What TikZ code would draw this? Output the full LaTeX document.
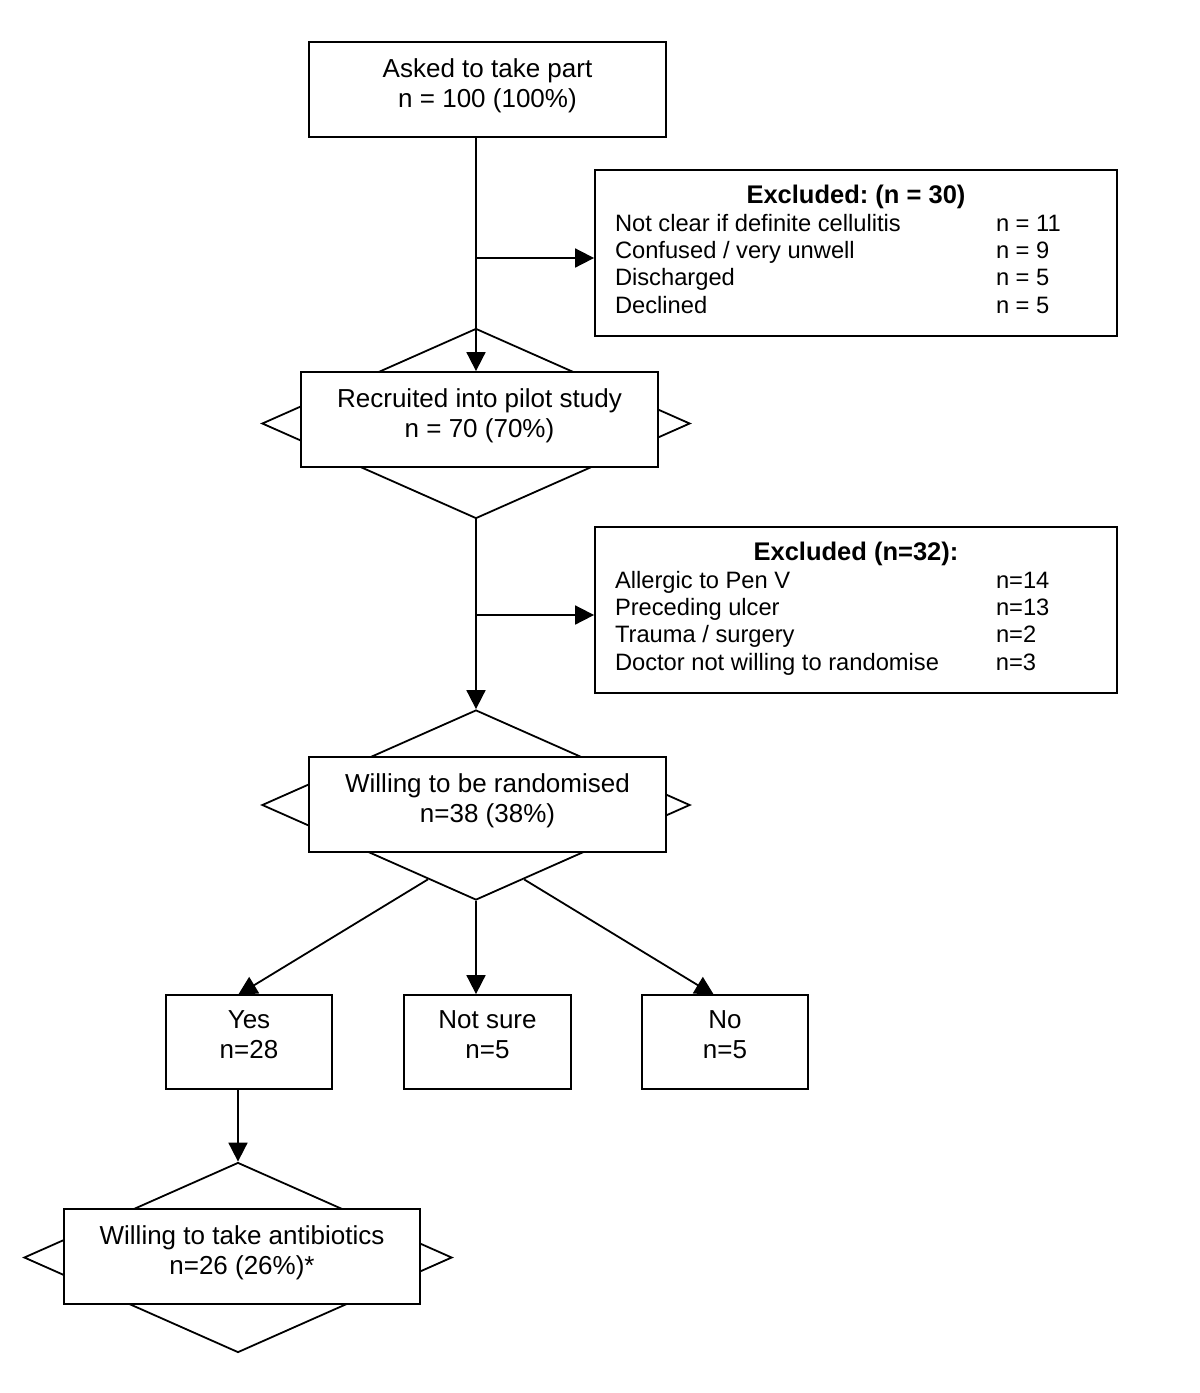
\documentclass[tikz,border=0pt]{standalone}
\usepackage{fontspec}
\setmainfont{Liberation Sans}
\usetikzlibrary{shapes.geometric,arrows.meta,calc}
\frenchspacing
\begin{document}
\begin{tikzpicture}[x=1pt,y=-1pt,
  every node/.style={font=\fontsize{26}{30}\selectfont},
  lw/.style={line width=1.8pt},
  dia/.style={lw,draw,shape=diamond,inner sep=0pt,minimum width=428pt,minimum height=190pt},
  box/.style={lw,draw,fill=white,align=center,inner sep=0pt,text depth=13.5pt,minimum width=357pt,minimum height=95pt},
  small/.style={lw,draw,fill=white,align=center,inner sep=0pt,text depth=14.5pt,minimum width=166pt,minimum height=94pt},
  excl/.style={lw,draw,fill=white,inner sep=0pt,minimum width=522pt,minimum height=166pt,font=\fontsize{23.7}{27.3}\selectfont},
  arr/.style={lw,-{Triangle[length=19pt,width=19pt]}},
  ln/.style={lw}]
\useasboundingbox (0,0) rectangle (1200,1393);
\fill[white] (0,0) rectangle (1200,1393);

% diamonds
\node[dia] (d1) at (476,423.5) {};
\node[dia] (d2) at (476,805) {};
\node[dia] (d3) at (238,1257.5) {};

% boxes
\node[box] (b1) at (487.5,89.5) {Asked to take part\\n = 100 (100\%)};
\node[box] (r1) at (479.5,419.5) {Recruited into pilot study\\n = 70 (70\%)};
\node[box] (r2) at (487.5,804.5) {Willing to be randomised\\n=38 (38\%)};
\node[box,minimum width=356pt] (r3) at (242,1256.5) {Willing to take antibiotics\\n=26 (26\%)*};

\node[small] (yes) at (249,1042) {Yes\\n=28};
\node[small,minimum width=167pt] (ns) at (487.5,1042) {Not sure\\n=5};
\node[small] (no) at (725,1042) {No\\n=5};

\node[excl] (e1) at (856,253) {\begin{tabular}{@{}p{381pt}@{}p{101pt}@{}}
\multicolumn{2}{@{}c@{}}{\fontsize{25.5}{27.3}\selectfont\bfseries Excluded: (n = 30)}\\
Not clear if definite cellulitis & n = 11\\
Confused / very unwell & n = 9\\
Discharged & n = 5\\
Declined & n = 5
\end{tabular}};
\node[excl] (e2) at (856,610) {\begin{tabular}{@{}p{381pt}@{}p{101pt}@{}}
\multicolumn{2}{@{}c@{}}{\fontsize{25.5}{27.3}\selectfont\bfseries Excluded (n=32):}\\
Allergic to Pen V & n=14\\
Preceding ulcer & n=13\\
Trauma / surgery & n=2\\
Doctor not willing to randomise & n=3
\end{tabular}};

% coordinates
\coordinate (k1) at (476,258);
\coordinate (k2) at (476,615);
\coordinate (yt) at (238,995);
\coordinate (nt) at (714,995);
\coordinate (ls) at ($(d2.south)!0.224!(d2.west)$);
\coordinate (rs) at ($(d2.south)!0.224!(d2.east)$);

% connectors
\draw[arr] (b1.south -| d1.north) -- (r1.north -| d1.north);
\draw[arr] (k1) -- (k1 -| e1.west);
\draw[arr] (d1.south) -- (d2.north);
\draw[arr] (k2) -- (k2 -| e2.west);
\draw[arr] (ls) -- (yt);
\draw[arr] (d2.south) -- (ns.north -| d2.south);
\draw[arr] (rs) -- (nt);
\draw[arr] (yes.south -| d3.north) -- (d3.north);
\end{tikzpicture}
\end{document}
